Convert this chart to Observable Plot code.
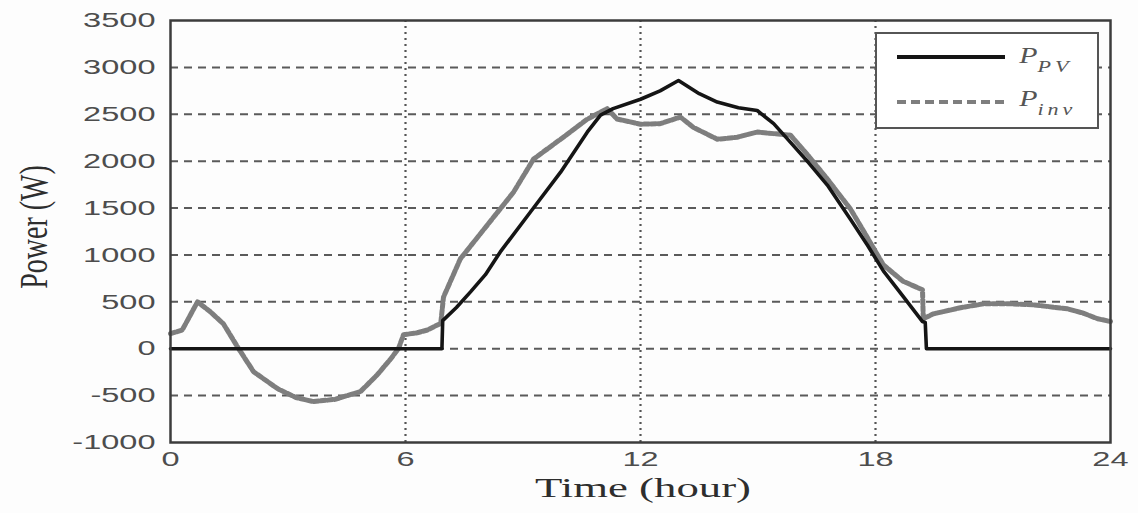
<!DOCTYPE html>
<html>
<head>
<meta charset="utf-8">
<script src="https://cdn.jsdelivr.net/npm/d3@7"></script>
<script src="https://cdn.jsdelivr.net/npm/@observablehq/plot@0.6"></script>
<style>
  html, body { margin: 0; padding: 0; background: #fdfdfd; }
  #chart { width: 1138px; height: 513px; }
</style>
</head>
<body>
<div id="chart"></div>
<script>
// ---- data ----
const hoursPV = [0, 6.93, 6.95, 7.3, 7.66, 8.04, 8.42, 9.19, 9.96, 10.64, 10.98, 11.3, 12.0, 12.5, 12.97, 13.5, 13.96, 14.5, 14.98, 15.4, 15.83, 16.3, 16.77, 17.36, 17.8, 18.2, 18.7, 19.2, 19.27, 19.3, 24];
const valsPV  = [0, 0, 300, 440, 606, 790, 1032, 1458, 1883, 2309, 2490, 2560, 2660, 2750, 2860, 2720, 2630, 2570, 2540, 2400, 2200, 1980, 1745, 1380, 1100, 830, 560, 290, 280, 0, 0];

const hoursInv = [0, 0.3, 0.69, 1.0, 1.35, 1.74, 2.12, 2.73, 3.2, 3.65, 4.2, 4.85, 5.28, 5.6, 5.82, 5.95, 6.3, 6.56, 6.9, 6.97, 7.4, 8.09, 8.76, 9.27, 9.96, 10.64, 11.15, 11.4, 12.0, 12.5, 13.02, 13.35, 13.96, 14.47, 14.98, 15.83, 16.3, 16.77, 17.36, 17.8, 18.2, 18.7, 19.2, 19.22, 19.48, 20.2, 20.76, 21.4, 22.03, 22.9, 23.3, 23.67, 24];
const valsInv  = [160, 200, 500, 400, 266, 0, -245, -425, -520, -564, -540, -457, -277, -120, 0, 150, 170, 200, 270, 550, 958, 1319, 1670, 2022, 2234, 2447, 2560, 2450, 2394, 2400, 2470, 2360, 2234, 2255, 2310, 2277, 2050, 1810, 1490, 1180, 894, 720, 628, 320, 372, 440, 479, 480, 468, 425, 380, 320, 290];

const xTicks = [0, 6, 12, 18, 24];
const yTicks = [-1000, -500, 0, 500, 1000, 1500, 2000, 2500, 3000, 3500];
const xGrid = [6, 12, 18];
const yGrid = [-500, 0, 500, 1000, 1500, 2000, 2500, 3000];

const xLabel = "Time (hour)";
const yLabel = "Power (W)";

const pv = hoursPV.map((h, i) => ({h, v: valsPV[i]}));
const inv = hoursInv.map((h, i) => ({h, v: valsInv[i]}));

const plain = d => String(d);

const chart = Plot.plot({
  width: 1138,
  height: 513,
  marginLeft: 170,
  marginRight: 28,
  marginTop: 20,
  marginBottom: 71,
  style: {fontFamily: "'Liberation Sans', Arial, sans-serif", fontSize: "21px", color: "#4d4d4d", background: "transparent"},
  x: {domain: [0, 24], ticks: xTicks, label: null},
  y: {domain: [-1000, 3500], ticks: yTicks, label: null},
  marks: [
    Plot.ruleY(yGrid, {stroke: "#5a5a5a", strokeWidth: 2, strokeDasharray: "8,6"}),
    Plot.ruleX(xGrid, {stroke: "#555", strokeWidth: 2.2, strokeDasharray: "2,4"}),
    Plot.line(inv, {x: "h", y: "v", stroke: "#7e7e7e", strokeWidth: 5, strokeDasharray: "5,2", curve: "linear"}),
    Plot.line(pv, {x: "h", y: "v", stroke: "#151515", strokeWidth: 3.6, curve: "linear"}),
    Plot.frame({stroke: "#3c3c3c", strokeWidth: 2.5}),
    Plot.axisY(yTicks, {tickSize: 0, tickPadding: 15, fontSize: 21, label: null, tickFormat: plain}),
    Plot.axisX(xTicks, {tickSize: 0, tickPadding: 9, fontSize: 21, label: null, tickFormat: plain})
  ]
});

document.getElementById("chart").appendChild(chart);
const svg = d3.select(chart);

// axis titles
svg.append("text")
  .attr("x", 643).attr("y", 497)
  .attr("text-anchor", "middle")
  .attr("font-family", "'Liberation Serif', 'Times New Roman', serif")
  .attr("font-size", 28)
  .attr("fill", "#2e2e2e")
  .text(xLabel);

svg.append("text")
  .attr("data-nostretch", "1")
  .attr("transform", "translate(47,227) scale(1.45,1) rotate(-90)")
  .attr("text-anchor", "middle")
  .attr("font-family", "'Liberation Serif', 'Times New Roman', serif")
  .attr("font-size", 28)
  .attr("fill", "#2e2e2e")
  .text(yLabel);

// legend
const lg = svg.append("g");
lg.append("rect").attr("x", 876).attr("y", 33).attr("width", 222).attr("height", 95)
  .attr("fill", "#fff").attr("stroke", "#555").attr("stroke-width", 2);
lg.append("line").attr("x1", 897).attr("x2", 1005).attr("y1", 57).attr("y2", 57)
  .attr("stroke", "#151515").attr("stroke-width", 4);
lg.append("line").attr("x1", 897).attr("x2", 1005).attr("y1", 102).attr("y2", 102)
  .attr("stroke", "#7e7e7e").attr("stroke-width", 4).attr("stroke-dasharray", "9,5");
function legendText(y, main, sub) {
  const t = lg.append("text").attr("x", 1019).attr("y", y)
    .attr("text-anchor", "start")
    .attr("font-family", "'Liberation Serif', 'Times New Roman', serif")
    .attr("font-style", "italic").attr("fill", "#555").attr("font-size", 23);
  t.append("tspan").text(main);
  t.append("tspan").attr("dy", 9).attr("font-size", 17).attr("letter-spacing", 3).text(sub);
}
legendText(63, "P", "PV");
legendText(106, "P", "inv");

// horizontal stretch of text, as in reference
svg.selectAll("text").each(function() {
  if (this.getAttribute("data-nostretch")) return;
  const bb = this.getBBox();
  const anchor = getComputedStyle(this).textAnchor;
  const cx = anchor === "end" ? bb.x + bb.width : anchor === "middle" ? bb.x + bb.width / 2 : bb.x;
  const ff = this.getAttribute("font-family") || "";
  const s = ff.includes("Serif") ? (this.getAttribute("font-style") ? 1.3 : 1.6) : 1.55;
  const old = this.getAttribute("transform") || "";
  this.setAttribute("transform", `${old} translate(${cx},0) scale(${s},1) translate(${-cx},0)`);
});
</script>
</body>
</html>
